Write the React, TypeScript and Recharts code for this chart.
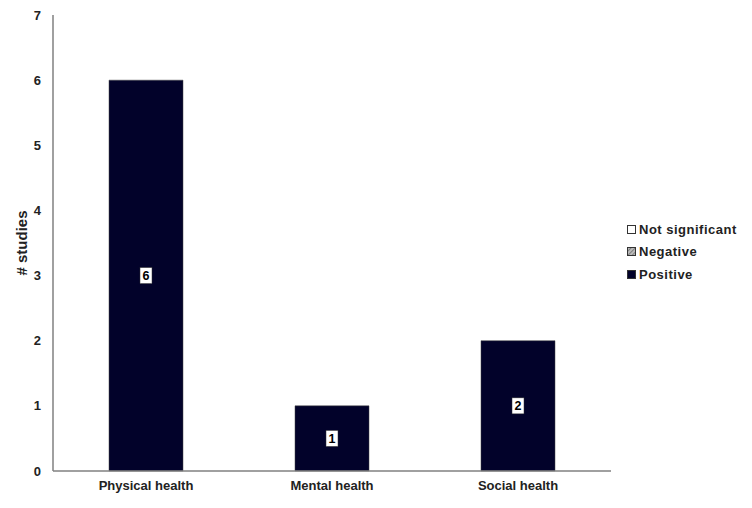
import React from 'react';
import { BarChart, Bar, XAxis, YAxis, Legend, LabelList } from 'recharts';

const categories = ['Physical health', 'Mental health', 'Social health'];
const positive = [6, 1, 2];
const negative = [0, 0, 0];
const notSignificant = [0, 0, 0];
const yTicks = [0, 1, 2, 3, 4, 5, 6, 7];

const data = categories.map((c, i) => ({
  name: c,
  positive: positive[i],
  negative: negative[i],
  notSignificant: notSignificant[i],
}));

const FONT = '"Liberation Sans", Arial, sans-serif';
const BAR_COLOR = '#02022a';

const ValueBox = (props: any) => {
  const { x, y, width, height, value } = props;
  if (!value) return null;
  const cx = x + width / 2;
  const cy = y + height / 2;
  return (
    <g>
      <rect x={cx - 6} y={cy - 8} width={12} height={16} fill="#ffffff" stroke="#333" strokeWidth={0.5} />
      <text x={cx} y={cy + 4.5} textAnchor="middle" fontFamily={FONT} fontWeight="bold" fontSize={12.5} fill="#000">
        {value}
      </text>
    </g>
  );
};

const legendItems = [
  { label: 'Not significant', kind: 'white' },
  { label: 'Negative', kind: 'hatch' },
  { label: 'Positive', kind: 'dark' },
];

const LegendContent = () => (
  <div style={{ fontFamily: FONT, fontWeight: 'bold', fontSize: 13, color: '#222' }}>
    {legendItems.map((it) => (
      <div key={it.label} style={{ display: 'flex', alignItems: 'center', height: 22.5 }}>
        <svg width={9} height={9} style={{ marginRight: 3 }}>
          <defs>
            <pattern id="hatchLeg" patternUnits="userSpaceOnUse" width={3} height={3} patternTransform="rotate(45)">
              <rect width={3} height={3} fill="#bbb" />
              <line x1={0} y1={0} x2={0} y2={3} stroke="#444" strokeWidth={1} />
            </pattern>
          </defs>
          <rect
            x={0.5}
            y={0.5}
            width={8}
            height={8}
            fill={it.kind === 'white' ? '#fff' : it.kind === 'hatch' ? 'url(#hatchLeg)' : BAR_COLOR}
            stroke="#333"
            strokeWidth={1}
          />
        </svg>
        <span style={{ letterSpacing: 0.5 }}>{it.label}</span>
      </div>
    ))}
  </div>
);

export default function App() {
  return (
    <div style={{ position: 'absolute', left: 0, top: 0, width: 752, height: 508, background: '#fff' }}>
      <BarChart
        width={752}
        height={508}
        data={data}
        margin={{ top: 15, right: 141, bottom: 7, left: 0 }}
        barSize={74}
      >
        <defs>
          <pattern id="hatchBar" patternUnits="userSpaceOnUse" width={4} height={4} patternTransform="rotate(45)">
            <rect width={4} height={4} fill="#bbb" />
            <line x1={0} y1={0} x2={0} y2={4} stroke="#444" strokeWidth={1} />
          </pattern>
        </defs>
        <XAxis
          dataKey="name"
          height={30}
          tickLine={false}
          tickMargin={4}
          axisLine={{ stroke: '#808080', strokeWidth: 1.5 }}
          tick={{ fontFamily: FONT, fontWeight: 'bold', fontSize: 13, fill: '#222' }}
        />
        <YAxis
          width={53}
          domain={[0, 7]}
          ticks={yTicks}
          interval={0}
          tickLine={false}
          tickSize={6}
          tickMargin={6}
          axisLine={{ stroke: '#808080', strokeWidth: 1.5 }}
          tick={{ fontFamily: FONT, fontWeight: 'bold', fontSize: 13, fill: '#222' }}
          label={{
            content: (p: any) => {
              const vb = p.viewBox;
              const x = vb.x + 27;
              const y = vb.y + vb.height / 2;
              return (
                <text
                  x={x}
                  y={y}
                  transform={`rotate(-90, ${x}, ${y})`}
                  textAnchor="middle"
                  fontFamily={FONT}
                  fontWeight="bold"
                  fontSize={15}
                  fill="#222"
                >
                  # studies
                </text>
              );
            },
          }}
        />
        <Legend
          layout="horizontal"
          align="center"
          verticalAlign="middle"
          content={<LegendContent />}
          wrapperStyle={{ left: 627, top: 218, width: 125 }}
        />
        <Bar dataKey="positive" stackId="a" fill={BAR_COLOR} stroke="#444" strokeWidth={0.5} isAnimationActive={false}>
          <LabelList dataKey="positive" content={<ValueBox />} />
        </Bar>
        <Bar dataKey="negative" stackId="a" fill="url(#hatchBar)" isAnimationActive={false} />
        <Bar dataKey="notSignificant" stackId="a" fill="#ffffff" isAnimationActive={false} />
      </BarChart>
    </div>
  );
}
